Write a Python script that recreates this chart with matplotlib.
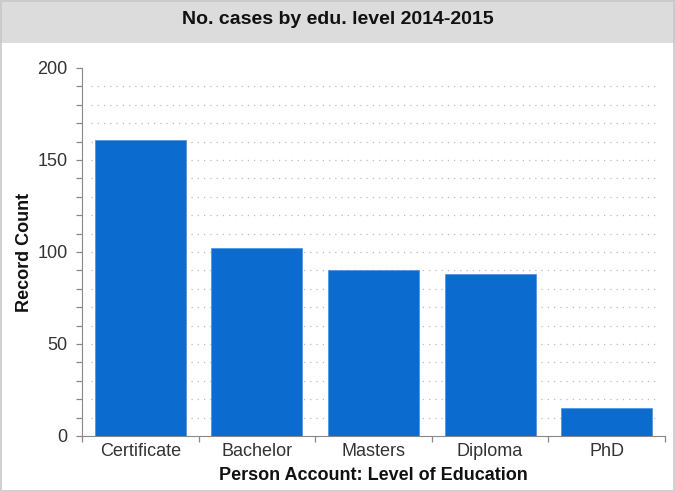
import matplotlib
matplotlib.use("Agg")
import matplotlib.pyplot as plt
from matplotlib.patches import Rectangle
import matplotlib.ticker as ticker

plt.rcParams["font.family"] = ["Liberation Sans", "DejaVu Sans"]

# data
levels = ["Certificate", "Bachelor", "Masters", "Diploma", "PhD"]
counts = [161, 102, 90, 88, 15]

title = "No. cases by edu. level 2014-2015"
x_label = "Person Account: Level of Education"
y_label = "Record Count"

fig = plt.figure(figsize=(6.75, 4.92), dpi=100)

# header band + outer frame
fig.patches.append(Rectangle((0, 1 - 43 / 492), 1, 43 / 492, transform=fig.transFigure,
                             facecolor="#dcdcdc", edgecolor="none", zorder=0))
fig.patches.append(Rectangle((0.002, 0.002), 0.996, 0.996, transform=fig.transFigure,
                             facecolor="none", edgecolor="#c8c8c8", linewidth=1.2, zorder=1))
fig.text(0.5, 1 - 20 / 492, title, ha="center", va="center",
         fontsize=14, fontweight="bold", color="#111111")

ax = fig.add_axes([82 / 675, 1 - 436 / 492, (665 - 82) / 675, (436 - 68) / 492])
x = range(len(levels))
ax.bar(x, counts, width=0.78, color="#0b6bcf", edgecolor="#4a90dd", linewidth=0.5, zorder=3)

ax.set_xlim(-0.5, len(levels) - 0.5)
ax.set_ylim(0, 200)

ax.yaxis.set_major_locator(ticker.MultipleLocator(50))
ax.yaxis.set_minor_locator(ticker.MultipleLocator(10))
for v in range(10, 200, 10):
    ax.axhline(v, xmin=0.015, xmax=0.985, color="#bbbbbb", linestyle=(0, (1, 4)),
               linewidth=0.9, zorder=1)

ax.set_xticks(list(x))
ax.set_xticklabels(levels)
ax.xaxis.set_minor_locator(ticker.FixedLocator([i + 0.5 for i in range(-1, len(levels))]))
ax.tick_params(axis="x", which="major", length=0, pad=5, labelsize=13, labelcolor="#333333")
ax.tick_params(axis="x", which="minor", length=4, color="#888888", width=0.9)
ax.tick_params(axis="y", which="major", length=4.5, color="#888888", width=0.9,
               pad=6, labelsize=13, labelcolor="#333333")
ax.tick_params(axis="y", which="minor", length=4.5, color="#888888", width=0.9)

ax.spines[["top", "right"]].set_visible(False)
ax.spines["left"].set_color("#888888")
ax.spines["bottom"].set_color("#888888")

ax.set_xlabel(x_label, fontsize=13, fontweight="bold", color="#111111", va="center")
ax.set_ylabel(y_label, fontsize=13, fontweight="bold", color="#111111", va="center")
ax.xaxis.set_label_coords(0.5, (436 - 476) / 368)
ax.yaxis.set_label_coords((25 - 82) / 583, 0.5)

fig.savefig("out.png", dpi=100)
